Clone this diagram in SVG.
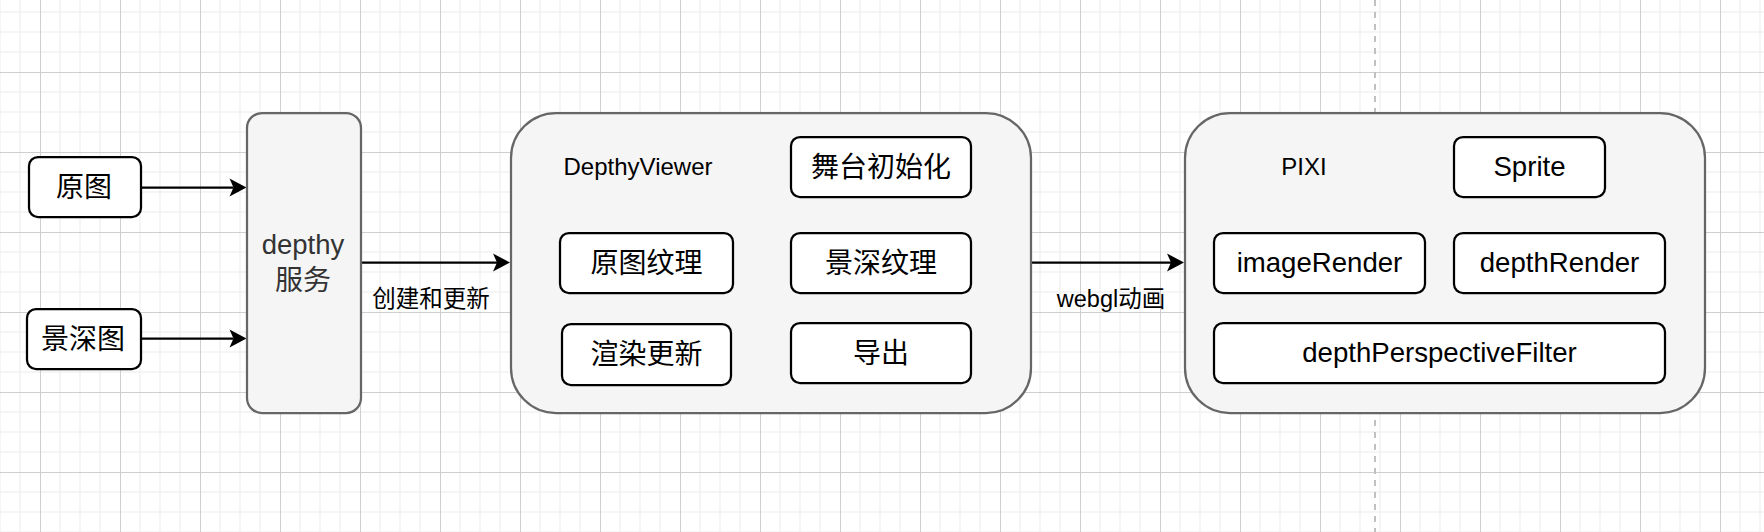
<svg xmlns="http://www.w3.org/2000/svg" width="1764" height="532" viewBox="0 0 1764 532">
<style>
.box{fill:#ffffff;stroke:#000000;stroke-width:2.25}
.cont{fill:#f5f5f5;stroke:#666666;stroke-width:2.25}
.t{font-family:"Liberation Sans","Noto Sans CJK SC",sans-serif;text-anchor:middle;fill:#000000}
.cjk{font-size:28px}
.lat{font-size:27.6px}
.title{font-size:24px}
.lbl{font-size:23.5px}
.edge{fill:none;stroke:#000000;stroke-width:2.25}
</style>
<defs>
<pattern id="grid" patternUnits="userSpaceOnUse" x="40" y="72" width="80" height="80">
<rect x="19.4" y="0" width="1.2" height="80" fill="#efefef"/>
<rect x="39.4" y="0" width="1.2" height="80" fill="#efefef"/>
<rect x="59.4" y="0" width="1.2" height="80" fill="#efefef"/>
<rect x="0" y="19.4" width="80" height="1.2" fill="#efefef"/>
<rect x="0" y="39.4" width="80" height="1.2" fill="#efefef"/>
<rect x="0" y="59.4" width="80" height="1.2" fill="#efefef"/>
<rect x="0" y="0" width="1" height="80" fill="#cfcfcf"/>
<rect x="0" y="0" width="80" height="1" fill="#cfcfcf"/>
</pattern>
<marker id="arrow" markerUnits="userSpaceOnUse" viewBox="0 0 20 20" markerWidth="20" markerHeight="20" refX="5" refY="10" orient="auto">
<path d="M1,1 L18,10 L1,19 L5,10 Z" fill="#000000"/>
</marker>
</defs>
<rect x="0" y="0" width="1764" height="532" fill="#ffffff"/>
<rect x="0" y="0" width="1764" height="532" fill="url(#grid)"/>
<line x1="1375" y1="0" x2="1375" y2="532" stroke="#c0c0c0" stroke-width="2" stroke-dasharray="6 6"/>

<g id="connectors">
<path class="edge" d="M141,187.5 L233.5,187.5" marker-end="url(#arrow)"/>
<path class="edge" d="M141,338.5 L233.5,338.5" marker-end="url(#arrow)"/>
<path class="edge" d="M361,262.5 L497,262.5" marker-end="url(#arrow)"/>
<path class="edge" d="M1031,262.5 L1171,262.5" marker-end="url(#arrow)"/>
<text class="t lbl" x="431" y="307">创建和更新</text>
<text class="t lbl" x="1111" y="307">webgl动画</text>
</g>

<g id="node-yuantu">
<rect class="box" x="29" y="157" width="112" height="60" rx="9"/>
<text class="t cjk" x="84" y="196.5">原图</text>
</g>
<g id="node-jingshentu">
<rect class="box" x="27" y="309" width="114" height="60" rx="9"/>
<text class="t cjk" x="83" y="348.5">景深图</text>
</g>
<g id="node-depthy">
<rect class="cont" x="247" y="113" width="114" height="300" rx="15"/>
<text class="t" style="fill:#333333" x="303" y="254" font-size="27.5px">depthy</text>
<text class="t cjk" style="fill:#333333" x="303" y="290">服务</text>
</g>

<g id="node-depthyviewer">
<rect class="cont" x="511" y="113" width="520" height="300" rx="45"/>
<text class="t title" x="638" y="175">DepthyViewer</text>
</g>
<g id="node-wutai">
<rect class="box" x="791" y="137" width="180" height="60" rx="9"/>
<text class="t cjk" x="881" y="176.5">舞台初始化</text>
</g>
<g id="node-yuantuwenli">
<rect class="box" x="560" y="233" width="173" height="60" rx="9"/>
<text class="t cjk" x="646.5" y="272.5">原图纹理</text>
</g>
<g id="node-jingshenwenli">
<rect class="box" x="791" y="233" width="180" height="60" rx="9"/>
<text class="t cjk" x="881" y="272.5">景深纹理</text>
</g>
<g id="node-xuanran">
<rect class="box" x="562" y="324" width="169" height="61" rx="9"/>
<text class="t cjk" x="646.5" y="364">渲染更新</text>
</g>
<g id="node-daochu">
<rect class="box" x="791" y="323" width="180" height="60" rx="9"/>
<text class="t cjk" x="881" y="362.5">导出</text>
</g>

<g id="node-pixi">
<rect class="cont" x="1185" y="113" width="520" height="300" rx="45"/>
<text class="t title" x="1304" y="175">PIXI</text>
</g>
<g id="node-sprite">
<rect class="box" x="1454" y="137" width="151" height="60" rx="9"/>
<text class="t lat" x="1529.5" y="176">Sprite</text>
</g>
<g id="node-imagerender">
<rect class="box" x="1214" y="233" width="211" height="60" rx="9"/>
<text class="t lat" x="1319.5" y="272">imageRender</text>
</g>
<g id="node-depthrender">
<rect class="box" x="1454" y="233" width="211" height="60" rx="9"/>
<text class="t lat" x="1559.5" y="272">depthRender</text>
</g>
<g id="node-filter">
<rect class="box" x="1214" y="323" width="451" height="60" rx="9"/>
<text class="t lat" x="1439.5" y="362">depthPerspectiveFilter</text>
</g>
</svg>
